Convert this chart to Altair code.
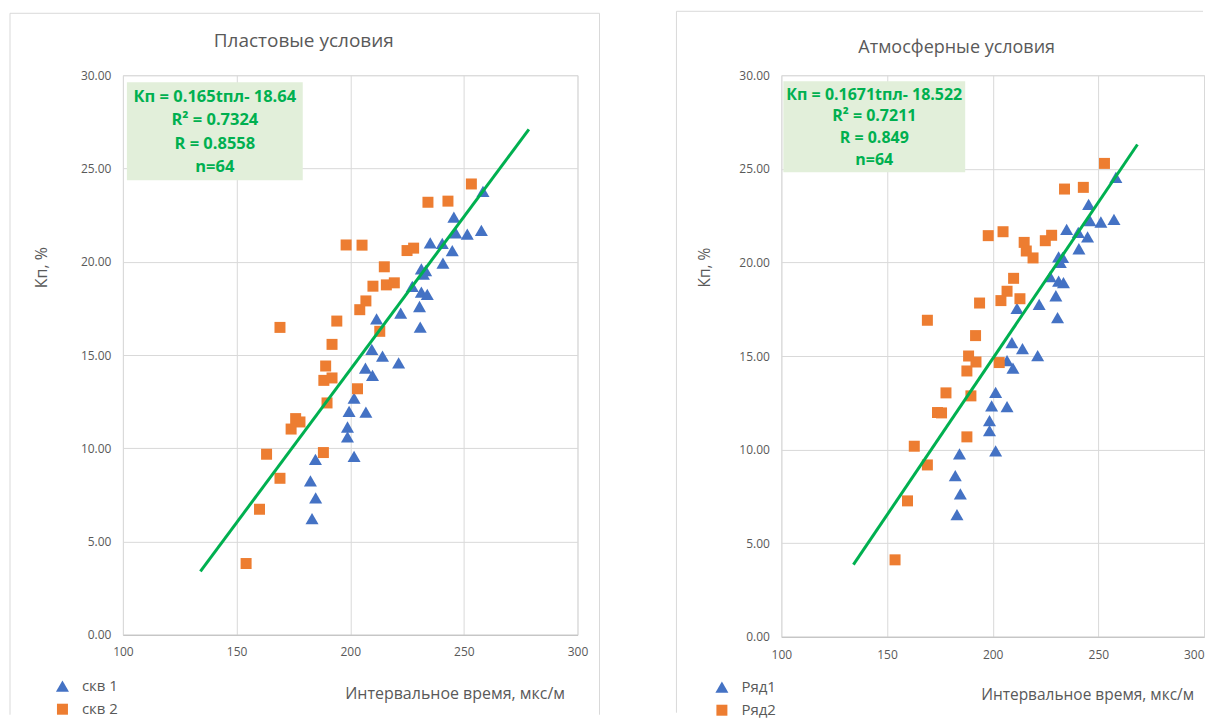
import altair as alt
import pandas as pd

# ---------------- data ----------------
x_ticks = [100, 150, 200, 250, 300]
y_ticks = [0, 5, 10, 15, 20, 25, 30]

left_title = "Пластовые условия"
right_title = "Атмосферные условия"
x_title = "Интервальное время, мкс/м"
y_title = "Кп, %"

left_series = ["скв 1", "скв 2"]
right_series = ["Ряд1", "Ряд2"]

left_s1_x = [258.4, 245.6, 246.4, 251.5, 257.7, 235.2, 240.5, 244.9, 240.8, 231.3, 233.2, 232.2,
             227.3, 231.3, 233.9, 230.5, 230.8, 222.2, 211.6, 209.5, 214.2, 221.3, 206.7, 209.8,
             201.7, 199.5, 206.9, 198.8, 198.8, 201.7, 184.7, 182.5, 184.8, 183.2]
left_s1_y = [23.77, 22.39, 21.55, 21.48, 21.68, 21.01, 20.98, 20.60, 19.93, 19.62, 19.53, 19.34,
             18.68, 18.37, 18.25, 17.60, 16.50, 17.25, 16.94, 15.30, 14.94, 14.58, 14.30, 13.91,
             12.69, 11.98, 11.94, 11.14, 10.61, 9.57, 9.41, 8.25, 7.34, 6.23]
left_s2_x = [253.3, 234.2, 243.0, 198.2, 205.2, 225.0, 227.9, 215.0, 210.0, 215.9, 219.4, 206.9,
             204.2, 194.1, 169.1, 192.0, 213.0, 189.2, 188.4, 192.0, 203.2, 189.8, 176.0, 177.9,
             174.0, 163.2, 188.2, 169.1, 160.1, 154.2]
left_s2_y = [24.17, 23.19, 23.25, 20.90, 20.89, 20.60, 20.73, 19.73, 18.69, 18.76, 18.87, 17.90,
             17.43, 16.82, 16.48, 15.57, 16.27, 14.41, 13.64, 13.77, 13.19, 12.43, 11.59, 11.41,
             11.03, 9.68, 9.77, 8.39, 6.73, 3.82]

right_s1_x = [258.3, 245.4, 246.0, 251.2, 257.4, 235.0, 240.5, 244.9, 240.8, 231.2, 233.1, 232.0,
              227.2, 231.2, 233.5, 229.9, 230.7, 222.0, 211.5, 209.1, 214.1, 221.3, 206.8, 209.6,
              201.4, 199.5, 206.8, 198.5, 198.5, 201.4, 184.3, 182.3, 184.7, 183.1]
right_s1_y = [24.54, 23.10, 22.23, 22.16, 22.30, 21.77, 21.61, 21.37, 20.73, 20.30, 20.27, 20.00,
              19.24, 19.00, 18.92, 18.22, 17.05, 17.76, 17.55, 15.71, 15.39, 15.02, 14.75, 14.35,
              13.06, 12.33, 12.30, 11.55, 11.01, 9.93, 9.77, 8.61, 7.63, 6.53]
right_s2_x = [252.9, 234.0, 242.9, 197.9, 204.9, 224.9, 227.9, 214.9, 215.9, 219.1, 209.9, 206.8,
              203.9, 212.9, 193.8, 169.1, 191.9, 188.6, 192.1, 203.1, 187.8, 177.9, 189.7, 173.9,
              175.8, 187.8, 162.9, 169.1, 159.7, 153.8]
right_s2_y = [25.29, 23.92, 24.01, 21.43, 21.64, 21.16, 21.45, 21.07, 20.61, 20.24, 19.15, 18.46,
              17.96, 18.06, 17.83, 16.91, 16.09, 15.00, 14.68, 14.65, 14.20, 13.03, 12.87, 11.98,
              11.96, 10.68, 10.18, 9.18, 7.26, 4.11]

left_trend_x = [134.1, 278.6]
left_trend_y = [3.40, 27.10]
right_trend_x = [134.1, 268.5]
right_trend_y = [3.85, 26.30]

left_box_lines = ["Кп = 0.165tпл- 18.64", "R² = 0.7324", "R = 0.8558", "n=64"]
right_box_lines = ["Кп = 0.1671tпл- 18.522", "R² = 0.7211", "R = 0.849", "n=64"]

# ---------------- styling ----------------
FONT = "Open Sans"
BLUE = "#4472C4"
ORANGE = "#ED7D31"
GREEN = "#00B050"
GREY_TXT = "#595959"
GRID = "#D9D9D9"
FRAME = "#D9D9D9"
BOX = "#E2EFDA"

one = pd.DataFrame({"k": [0]})


def panel(title, names, s1x, s1y, s2x, s2y, tx, ty, lines, g):
    pts = pd.DataFrame({
        "x": s1x + s2x,
        "y": s1y + s2y,
        "series": [names[0]] * len(s1x) + [names[1]] * len(s2x),
    })
    trend = pd.DataFrame({"x": tx, "y": ty})

    x_axis_kw = dict(values=x_ticks, title=x_title, grid=True, gridColor=GRID,
                     ticks=False, tickSize=0, domain=True, domainColor="#BFBFBF",
                     labelPadding=g["xlp"], labelFontSize=12, labelColor=GREY_TXT,
                     labelFont=FONT, titleFont=FONT, titleFontSize=g["axis_fs"],
                     titleFontWeight="normal", titleColor=GREY_TXT,
                     titleX=g["xtx"], titleY=g["xty"], titleAlign="center",
                     titleBaseline="middle", labelFlush=False)
    if g["clip_last_label"]:
        # the last tick label sits at the window edge: keep it inside the page
        x_axis_kw["labelAlign"] = {"expr": "datum.value == 300 ? 'right' : 'center'"}

    X = alt.X("x:Q",
              scale=alt.Scale(domain=[100, 300], nice=False, zero=False),
              axis=alt.Axis(**x_axis_kw))
    Y = alt.Y("y:Q",
              scale=alt.Scale(domain=[0, 30], nice=False, zero=True),
              axis=alt.Axis(values=y_ticks, format=".2f", title=y_title, grid=True,
                            gridColor=GRID, ticks=False, tickSize=0, domain=False,
                            labelPadding=12, labelFontSize=12, labelColor=GREY_TXT,
                            labelFont=FONT, titleFont=FONT, titleFontSize=g["axis_fs"],
                            titleFontWeight="normal", titleColor=GREY_TXT,
                            titleX=g["ytx"], titleY=g["yty"], titleAngle=-90,
                            titleAlign="center", titleBaseline="middle", labelFlush=False))

    fl, ft, fr, fb = g["frame"]
    frame_top = alt.Chart(one).mark_rule(color=FRAME, strokeWidth=1).encode(
        x=alt.value(fl), x2=alt.value(fr), y=alt.value(ft))
    frame_left = alt.Chart(one).mark_rule(color=FRAME, strokeWidth=1).encode(
        x=alt.value(fl), y=alt.value(ft), y2=alt.value(fb))
    layers = [frame_top, frame_left]
    if g["right_border"]:
        layers.append(alt.Chart(one).mark_rule(color=FRAME, strokeWidth=1).encode(
            x=alt.value(fr), y=alt.value(ft), y2=alt.value(fb)))

    points = alt.Chart(pts).mark_point(filled=True, opacity=1, strokeWidth=0).encode(
        x=X, y=Y,
        color=alt.Color("series:N",
                        scale=alt.Scale(domain=names, range=[BLUE, ORANGE]),
                        legend=alt.Legend(orient="none", legendX=g["lgx"], legendY=g["lgy"],
                                          title=None, labelFont=FONT, labelFontSize=15,
                                          labelColor=GREY_TXT, symbolSize=110,
                                          symbolStrokeWidth=0, rowPadding=7,
                                          labelOffset=12, padding=0)),
        shape=alt.Shape("series:N",
                        scale=alt.Scale(domain=names, range=["triangle-up", "square"]),
                        legend=None),
        size=alt.Size("series:N", scale=alt.Scale(domain=names, range=[170, 121]), legend=None),
    )

    line = alt.Chart(trend).mark_line(color=GREEN, strokeWidth=3).encode(x=X, y=Y)

    bx0, by0, bx1, by1 = g["box"]
    box = alt.Chart(one).mark_rect(fill=BOX).encode(
        x=alt.value(bx0), x2=alt.value(bx1), y=alt.value(by0), y2=alt.value(by1))
    layers += [box]
    for txt, ly in zip(lines, g["box_lines_y"]):
        layers.append(alt.Chart(pd.DataFrame({"t": [txt]})).mark_text(
            font=FONT, fontSize=g["box_fs"], fontWeight="bold", color=GREEN,
            align="center", baseline="middle").encode(
            x=alt.value(g["box_cx"]), y=alt.value(ly), text="t:N"))

    ttl = alt.Chart(pd.DataFrame({"t": [title]})).mark_text(
        font=FONT, fontSize=g["title_fs"], color=GREY_TXT, align="center",
        baseline="middle").encode(
        x=alt.value(g["title"][0]), y=alt.value(g["title"][1]), text="t:N")

    layers += [points, line, ttl]
    return alt.layer(*layers).properties(width=g["w"], height=g["h"])


left_geom = dict(w=455, h=560, frame=(-113, -62, 477, 640), right_border=True,
                 title=(181, -34), title_fs=19, axis_fs=16, clip_last_label=False,
                 ytx=-81, yty=192, xtx=332, xty=59, xlp=12,
                 lgx=-68, lgy=604, box=(4, 7, 180, 105), box_cx=92,
                 box_lines_y=[22, 45.3, 68.7, 92], box_fs=16.5)
right_geom = dict(w=423, h=562, frame=(-105, -64, 422, 638), right_border=False,
                  title=(175.5, -27), title_fs=18, axis_fs=15.5, clip_last_label=True,
                  ytx=-77, yty=192, xtx=306, xty=58, xlp=13,
                  lgx=-67, lgy=605, box=(2, 6, 184, 97), box_cx=93,
                  box_lines_y=[19.3, 41, 63.3, 85], box_fs=16)

left = panel(left_title, left_series, left_s1_x, left_s1_y, left_s2_x, left_s2_y,
             left_trend_x, left_trend_y, left_box_lines, left_geom)
right = panel(right_title, right_series, right_s1_x, right_s1_y, right_s2_x, right_s2_y,
              right_trend_x, right_trend_y, right_box_lines, right_geom)

chart = alt.hconcat(left, right, spacing=75).resolve_scale(
    color="independent", shape="independent", size="independent"
).properties(
    padding={"left": 1, "top": 2, "right": 0, "bottom": 0}
).configure_view(stroke=GRID, strokeWidth=1).configure(background="white")

chart.save("out.html", embed_options={"renderer": "svg", "actions": False})
